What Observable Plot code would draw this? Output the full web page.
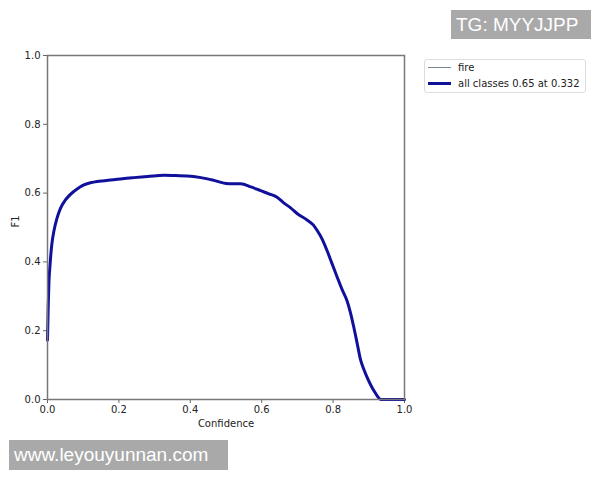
<!DOCTYPE html>
<html>
<head>
<meta charset="utf-8">
<script src="https://cdn.jsdelivr.net/npm/d3@7"></script>
<script src="https://cdn.jsdelivr.net/npm/@observablehq/plot@0.6"></script>
<style>
  body { margin: 0; background: #fff; }
  #wrap { position: relative; width: 600px; height: 480px; overflow: hidden; }
  #legend { position: absolute; left: 424px; top: 59px; width: 160px; height: 32px;
            border: 1px solid #ddd; border-radius: 3px; background: #fff;
            font-family: "DejaVu Sans", sans-serif; font-size: 10px; color: #222; }
  .row { position: absolute; left: 3px; height: 14px; display: flex; align-items: center; white-space: nowrap; }
  .sw { width: 23px; margin-right: 7px; flex: none; }
  .wm { position: absolute; background: #a9a9a9; color: #fff;
        font-family: "Liberation Sans", Arial, sans-serif; font-size: 19px;
        display: flex; align-items: center; padding-left: 5px; box-sizing: border-box; white-space: nowrap; }
</style>
</head>
<body>
<div id="wrap"></div>
<script>
const confidence = [0.000,0.002,0.004,0.007,0.012,0.018,0.026,0.036,0.048,0.060,0.074,0.090,0.102,0.120,0.139,0.160,0.186,0.210,0.242,0.280,0.326,0.360,0.391,0.430,0.466,0.500,0.520,0.541,0.570,0.597,0.620,0.643,0.660,0.681,0.700,0.727,0.745,0.755,0.770,0.783,0.797,0.811,0.825,0.839,0.848,0.858,0.868,0.877,0.886,0.895,0.905,0.914,0.924,0.933,1.000];
const f1 = [0.172,0.270,0.340,0.390,0.450,0.490,0.525,0.555,0.577,0.592,0.605,0.617,0.624,0.630,0.634,0.636,0.639,0.642,0.645,0.648,0.652,0.651,0.650,0.645,0.637,0.628,0.627,0.627,0.618,0.607,0.598,0.588,0.573,0.557,0.540,0.522,0.507,0.492,0.465,0.433,0.395,0.357,0.320,0.287,0.255,0.210,0.160,0.115,0.088,0.065,0.043,0.026,0.010,0.000,0.000];
const xTicks = [0, 0.2, 0.4, 0.6, 0.8, 1.0];
const yTicks = [0, 0.2, 0.4, 0.6, 0.8, 1.0];
const seriesNames = ["fire", "all classes 0.65 at 0.332"];
const seriesColors = ["#778899", "#10109c"];
const xLabel = "Confidence";
const yLabel = "F1";
const watermarks = ["TG: MYYJJPP", "www.leyouyunnan.com"];

const data = confidence.map((c, i) => ({c, f: f1[i]}));
const fmt = d3.format(".1f");

const chart = Plot.plot({
  width: 600, height: 480,
  marginLeft: 47, marginRight: 196, marginTop: 55, marginBottom: 81,
  style: {fontFamily: "DejaVu Sans, sans-serif", fontSize: "10px", color: "#222", background: "#fff"},
  x: {domain: [0, 1]},
  y: {domain: [0, 1]},
  marks: [
    Plot.axisX({ticks: xTicks, tickFormat: fmt, tickSize: 4, tickPadding: 2, label: null, stroke: "#666", fontSize: 10}),
    Plot.axisY({ticks: yTicks, tickFormat: fmt, tickSize: 4, tickPadding: 3, label: null, stroke: "#666", fontSize: 10}),
    Plot.line(data, {x: "c", y: "f", stroke: seriesColors[0], strokeWidth: 1}),
    Plot.line(data, {x: "c", y: "f", stroke: seriesColors[1], strokeWidth: 3, curve: "monotone-x"}),
    Plot.frame({stroke: "#777", strokeWidth: 1.5}),
    Plot.text([xLabel], {frameAnchor: "bottom", dy: 24, text: d => d, fontSize: 10, fill: "#222", lineAnchor: "middle"}),
    Plot.text([yLabel], {frameAnchor: "left", dx: -32, rotate: -90, text: d => d, fontSize: 10, fill: "#222"})
  ]
});

const wrap = document.getElementById("wrap");
wrap.appendChild(chart);

const legend = document.createElement("div");
legend.id = "legend";
seriesNames.forEach((name, i) => {
  const row = document.createElement("div");
  row.className = "row";
  row.style.top = (i === 0 ? 0 : 16) + "px";
  const sw = document.createElement("div");
  sw.className = "sw";
  sw.style.borderTop = (i === 0 ? 1 : 3) + "px solid " + seriesColors[i];
  const t = document.createElement("span");
  t.textContent = name;
  row.appendChild(sw); row.appendChild(t);
  legend.appendChild(row);
});
wrap.appendChild(legend);

const w1 = document.createElement("div");
w1.className = "wm";
Object.assign(w1.style, {left: "451px", top: "10px", width: "140px", height: "29px"});
w1.textContent = watermarks[0];
wrap.appendChild(w1);

const w2 = document.createElement("div");
w2.className = "wm";
Object.assign(w2.style, {left: "9px", top: "440px", width: "219px", height: "30px"});
w2.textContent = watermarks[1];
wrap.appendChild(w2);
</script>
</body>
</html>
